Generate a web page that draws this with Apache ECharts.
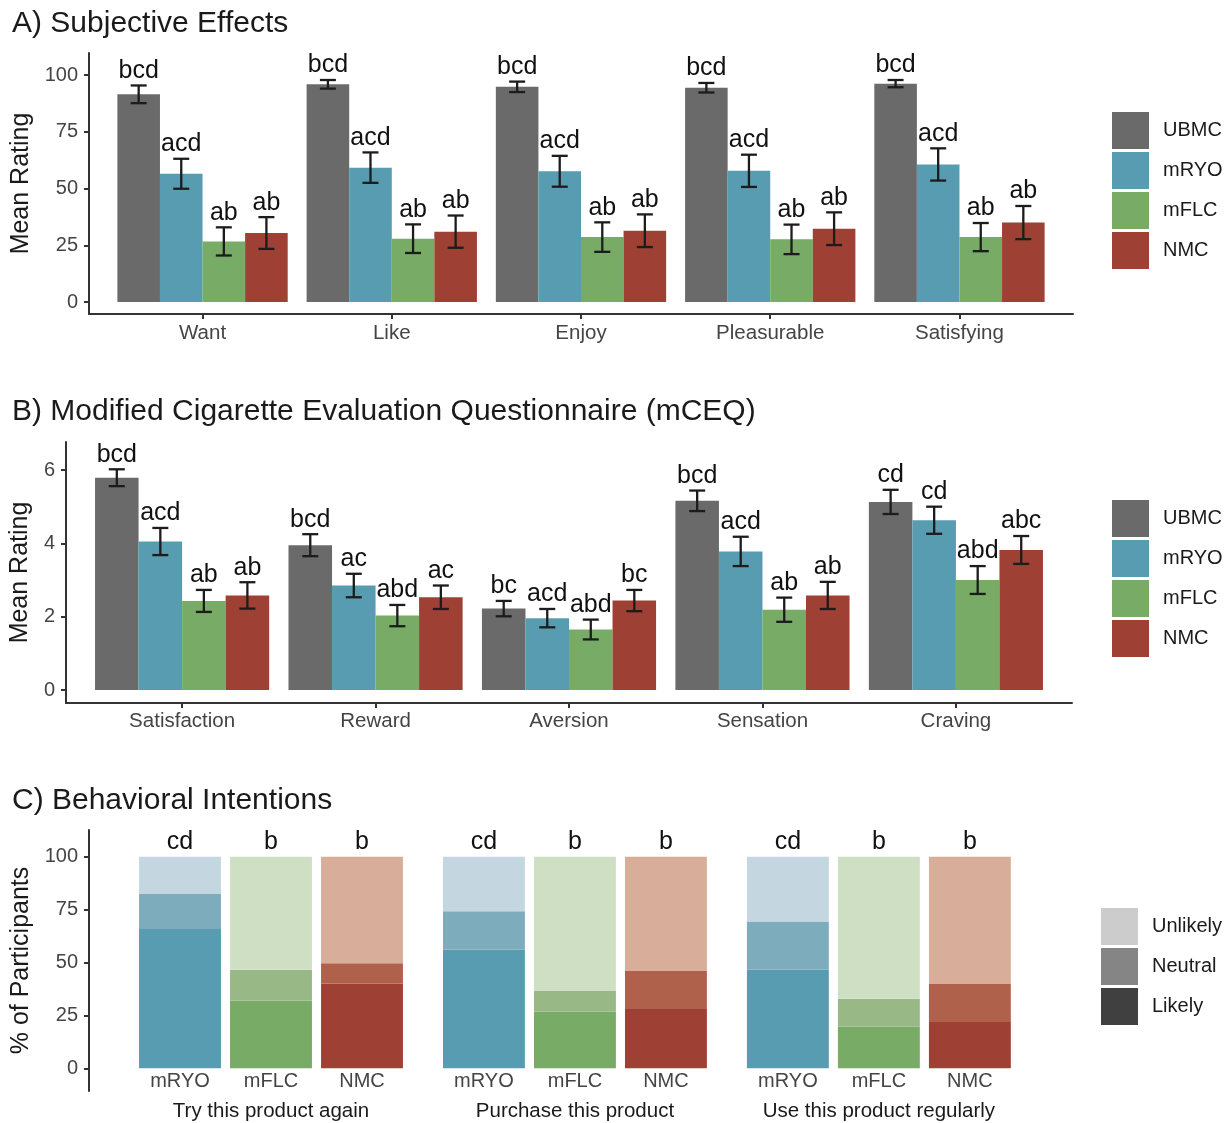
<!DOCTYPE html>
<html><head><meta charset="utf-8">
<script src="https://cdn.jsdelivr.net/npm/echarts@6/dist/echarts.min.js"></script>
<style>html,body{margin:0;padding:0;background:#fff}#c{width:1231px;height:1123px}</style>
</head><body><div id="c"></div><script>
const FONT = '"Liberation Sans", Arial, Helvetica, sans-serif';

// ---------- DATA ----------
const products = ['UBMC', 'mRYO', 'mFLC', 'NMC'];
const productColors = ['#6a6a6a', '#579cb0', '#77ab66', '#9f4034'];

// A) Subjective effects (0-100)
const catsA = ['Want', 'Like', 'Enjoy', 'Pleasurable', 'Satisfying'];
const A_UBMC = [91.5, 95.9, 94.8, 94.4, 96.2];
const A_UBMC_se = [3.9, 1.9, 2.3, 2.1, 1.6];
const A_UBMC_sig = ['bcd', 'bcd', 'bcd', 'bcd', 'bcd'];
const A_mRYO = [56.5, 59.2, 57.6, 57.8, 60.6];
const A_mRYO_se = [6.6, 6.7, 6.8, 7.1, 7.1];
const A_mRYO_sig = ['acd', 'acd', 'acd', 'acd', 'acd'];
const A_mFLC = [26.7, 27.9, 28.6, 27.6, 28.6];
const A_mFLC_se = [6.2, 6.3, 6.5, 6.5, 6.2];
const A_mFLC_sig = ['ab', 'ab', 'ab', 'ab', 'ab'];
const A_NMC = [30.4, 31.0, 31.4, 32.3, 35.0];
const A_NMC_se = [7.0, 7.1, 7.2, 7.2, 7.3];
const A_NMC_sig = ['ab', 'ab', 'ab', 'ab', 'ab'];
const ticksA = [0, 25, 50, 75, 100];

// B) mCEQ
const catsB = ['Satisfaction', 'Reward', 'Aversion', 'Sensation', 'Craving'];
const B_UBMC = [5.79, 3.95, 2.22, 5.16, 5.13];
const B_UBMC_se = [0.23, 0.30, 0.21, 0.28, 0.33];
const B_UBMC_sig = ['bcd', 'bcd', 'bc', 'bcd', 'cd'];
const B_mRYO = [4.05, 2.85, 1.96, 3.78, 4.63];
const B_mRYO_se = [0.37, 0.32, 0.25, 0.40, 0.37];
const B_mRYO_sig = ['acd', 'ac', 'acd', 'acd', 'cd'];
const B_mFLC = [2.43, 2.03, 1.65, 2.19, 3.00];
const B_mFLC_se = [0.30, 0.29, 0.27, 0.33, 0.38];
const B_mFLC_sig = ['ab', 'abd', 'abd', 'ab', 'abd'];
const B_NMC = [2.58, 2.53, 2.44, 2.58, 3.82];
const B_NMC_se = [0.36, 0.32, 0.29, 0.37, 0.38];
const B_NMC_sig = ['ab', 'ac', 'bc', 'ab', 'abc'];
const ticksB = [0, 2, 4, 6];

// C) Behavioral intentions (% of participants)
const intents = ['Try this product again', 'Purchase this product', 'Use this product regularly'];
const productsC = ['mRYO', 'mFLC', 'NMC'];
const levels = ['Unlikely', 'Neutral', 'Likely'];
const C_likely_mRYO = [65.8, 56.0, 46.5];
const C_neutral_mRYO = [16.6, 18.2, 22.8];
const C_unlikely_mRYO = [17.6, 25.8, 30.7];
const C_likely_mFLC = [32.0, 26.8, 19.7];
const C_neutral_mFLC = [14.5, 9.7, 13.2];
const C_unlikely_mFLC = [53.5, 63.5, 67.1];
const C_likely_NMC = [40.0, 28.0, 21.9];
const C_neutral_NMC = [9.6, 18.0, 17.9];
const C_unlikely_NMC = [50.4, 54.0, 60.2];
const C_sig = ['cd', 'b', 'b'];
const ticksC = [0, 25, 50, 75, 100];

// shades per product (likely, neutral, unlikely)
const shadesC = {
  mRYO: ['#579cb0', '#7dacbc', '#c4d7e1'],
  mFLC: ['#77ab66', '#98b985', '#cfdfc4'],
  NMC: ['#9f4034', '#af614b', '#d8ae9a']
};
const legendGrays = { Unlikely: '#cccccc', Neutral: '#858585', Likely: '#404040' };

// ---------- HELPERS ----------
const AXIS_COLOR = '#333333';
const TICK_TEXT = '#444444';
const BAR_W = 0.9 / 4;

function barSeries(name, pIdx, axisIdx, means, ses, sigs) {
  const data = means.map((m, i) => [i, m, ses[i]]);
  const color = productColors[pIdx];
  return {
    type: 'custom', name: name, xAxisIndex: axisIdx, yAxisIndex: axisIdx,
    itemStyle: { color: color },
    encode: { x: 0, y: 1 },
    data: data,
    silent: true,
    renderItem: function (params, api) {
      const i = api.value(0), m = api.value(1), e = api.value(2);
      const xc = i + (pIdx - 1.5) * BAR_W;
      const tl = api.coord([xc - BAR_W / 2, m]);
      const br = api.coord([xc + BAR_W / 2, 0]);
      const cx = api.coord([xc, m])[0];
      const top = api.coord([xc, m + e])[1];
      const bot = api.coord([xc, m - e])[1];
      const cap = 8;
      const ls = { stroke: '#1c1c1c', lineWidth: 2.3 };
      return {
        type: 'group', children: [
          { type: 'rect', shape: { x: tl[0], y: tl[1], width: br[0] - tl[0], height: br[1] - tl[1] }, style: { fill: color } },
          { type: 'line', shape: { x1: cx, y1: top, x2: cx, y2: bot }, style: ls },
          { type: 'line', shape: { x1: cx - cap, y1: top, x2: cx + cap, y2: top }, style: ls },
          { type: 'line', shape: { x1: cx - cap, y1: bot, x2: cx + cap, y2: bot }, style: ls },
          { type: 'text', style: { text: sigs[params.dataIndex], x: cx, y: top - 2, textAlign: 'center', textVerticalAlign: 'bottom', align: 'center', verticalAlign: 'bottom', font: '25px ' + FONT, fill: '#111111' } }
        ]
      };
    }
  };
}

const FACET_STEP = 3.34;
function posC(f, p) { return f * FACET_STEP + p; }

const C_likely = { mRYO: C_likely_mRYO, mFLC: C_likely_mFLC, NMC: C_likely_NMC };
const C_neutral = { mRYO: C_neutral_mRYO, mFLC: C_neutral_mFLC, NMC: C_neutral_NMC };
const C_unlikely = { mRYO: C_unlikely_mRYO, mFLC: C_unlikely_mFLC, NMC: C_unlikely_NMC };

function stackSeries(level) {
  const data = [];
  intents.forEach((_, f) => {
    productsC.forEach((p, k) => {
      const lk = C_likely[p][f], nt = C_neutral[p][f], ul = C_unlikely[p][f];
      let base, val, shade;
      if (level === 'Likely') { base = 0; val = lk; shade = 0; }
      else if (level === 'Neutral') { base = lk; val = nt; shade = 1; }
      else { base = lk + nt; val = ul; shade = 2; }
      data.push({ value: [posC(f, k), base, base + val], shade: shadesC[p][shade], f: f });
    });
  });
  return {
    type: 'custom', name: level, xAxisIndex: 2, yAxisIndex: 2,
    itemStyle: { color: legendGrays[level] },
    encode: { x: 0, y: [1, 2] },
    data: data, silent: true,
    renderItem: function (params, api) {
      const x = api.value(0), b = api.value(1), t = api.value(2);
      const d = data[params.dataIndex];
      const tl = api.coord([x - 0.45, t]);
      const br = api.coord([x + 0.45, b]);
      const kids = [{ type: 'rect', shape: { x: tl[0], y: tl[1], width: br[0] - tl[0], height: br[1] - tl[1] }, style: { fill: d.shade } }];
      if (level === 'Unlikely') {
        kids.push({ type: 'text', style: { text: C_sig[params.dataIndex % 3], x: api.coord([x, t])[0], y: tl[1] - 2, textAlign: 'center', textVerticalAlign: 'bottom', align: 'center', verticalAlign: 'bottom', font: '25px ' + FONT, fill: '#111111' } });
      }
      return { type: 'group', children: kids };
    }
  };
}

function yAxis(grid, min, max, ticks, name, gap) {
  return {
    type: 'value', gridIndex: grid, min: min, max: max, position: 'left',
    name: name, nameLocation: 'middle', nameGap: gap,
    nameTextStyle: { fontSize: 25, color: '#1a1a1a', fontFamily: FONT },
    axisLine: { show: true, onZero: false, lineStyle: { color: AXIS_COLOR, width: 2 } },
    axisTick: { show: true, length: 5, customValues: ticks, lineStyle: { color: AXIS_COLOR, width: 2 } },
    axisLabel: { customValues: ticks, margin: 11, fontSize: 20, color: TICK_TEXT, fontFamily: FONT },
    splitLine: { show: false }
  };
}
function xAxisCat(grid, cats, margin) {
  return {
    type: 'value', gridIndex: grid, min: -0.6, max: cats.length - 0.4, position: 'bottom',
    axisLine: { show: true, onZero: false, lineStyle: { color: AXIS_COLOR, width: 2 } },
    axisTick: { show: true, length: 5, customValues: cats.map((_, i) => i), lineStyle: { color: AXIS_COLOR, width: 2 } },
    axisLabel: { customValues: cats.map((_, i) => i), formatter: v => cats[Math.round(v)] || '', margin: margin, fontSize: 20.5, color: TICK_TEXT, fontFamily: FONT },
    splitLine: { show: false }
  };
}

const prodTickVals = [], prodTickMap = {};
intents.forEach((_, f) => productsC.forEach((p, k) => { const v = posC(f, k); prodTickVals.push(v); prodTickMap[v.toFixed(2)] = p; }));
const facetVals = [], facetMap = {};
intents.forEach((t, f) => { const v = posC(f, 1); facetVals.push(v); facetMap[v.toFixed(2)] = t; });

function legend(names, left, top) {
  return {
    data: names, orient: 'vertical', left: left, top: top, padding: 0,
    icon: 'rect', itemWidth: 37, itemHeight: 37, itemGap: 3, selectedMode: false,
    textStyle: { fontSize: 20, color: '#1a1a1a', fontFamily: FONT, padding: [0, 0, 0, 9] }
  };
}

const option = {
  animation: false,
  backgroundColor: '#ffffff',
  textStyle: { fontFamily: FONT },
  title: [
    { text: 'A) Subjective Effects', left: 12, top: 9, padding: 0, textStyle: { fontSize: 30, fontWeight: 'normal', color: '#1a1a1a', fontFamily: FONT } },
    { text: 'B) Modified Cigarette Evaluation Questionnaire (mCEQ)', left: 12, top: 397, padding: 0, textStyle: { fontSize: 30, fontWeight: 'normal', color: '#1a1a1a', fontFamily: FONT } },
    { text: 'C) Behavioral Intentions', left: 12, top: 786, padding: 0, textStyle: { fontSize: 30, fontWeight: 'normal', color: '#1a1a1a', fontFamily: FONT } }
  ],
  legend: [
    legend(products, 1112, 112),
    legend(products, 1112, 500),
    legend(levels, 1101, 908)
  ],
  grid: [
    { left: 89, top: 53, width: 984, height: 261 },
    { left: 65, top: 442, width: 1007, height: 261 },
    { left: 89, top: 830, width: 982.8, height: 261 }
  ],
  xAxis: [
    xAxisCat(0, catsA, 9),
    xAxisCat(1, catsB, 8),
    {
      type: 'value', gridIndex: 2, min: -1, max: 9.8, position: 'bottom', offset: -23,
      axisLine: { show: false, onZero: false }, axisTick: { show: false }, splitLine: { show: false },
      axisLabel: { customValues: prodTickVals, formatter: v => prodTickMap[v.toFixed(2)] || '', margin: 3, fontSize: 20, color: TICK_TEXT, fontFamily: FONT }
    },
    {
      type: 'value', gridIndex: 2, min: -1, max: 9.8, position: 'bottom', offset: 0,
      axisLine: { show: false, onZero: false }, axisTick: { show: false }, splitLine: { show: false },
      axisLabel: { customValues: facetVals, formatter: v => facetMap[v.toFixed(2)] || '', margin: 10, fontSize: 20.5, color: '#1a1a1a', fontFamily: FONT }
    }
  ],
  yAxis: [
    yAxis(0, -5.28, 109.7, ticksA, 'Mean Rating', 42),
    yAxis(1, -0.354, 6.764, ticksB, 'Mean Rating', 18),
    yAxis(2, -10.75, 112.6, ticksC, '% of Participants', 42)
  ],
  series: [
    barSeries('UBMC', 0, 0, A_UBMC, A_UBMC_se, A_UBMC_sig),
    barSeries('mRYO', 1, 0, A_mRYO, A_mRYO_se, A_mRYO_sig),
    barSeries('mFLC', 2, 0, A_mFLC, A_mFLC_se, A_mFLC_sig),
    barSeries('NMC', 3, 0, A_NMC, A_NMC_se, A_NMC_sig),
    barSeries('UBMC', 0, 1, B_UBMC, B_UBMC_se, B_UBMC_sig),
    barSeries('mRYO', 1, 1, B_mRYO, B_mRYO_se, B_mRYO_sig),
    barSeries('mFLC', 2, 1, B_mFLC, B_mFLC_se, B_mFLC_sig),
    barSeries('NMC', 3, 1, B_NMC, B_NMC_se, B_NMC_sig),
    stackSeries('Likely'),
    stackSeries('Neutral'),
    stackSeries('Unlikely')
  ]
};

const chart = echarts.init(document.getElementById('c'), null, { renderer: 'canvas' });
chart.setOption(option);
</script></body></html>
